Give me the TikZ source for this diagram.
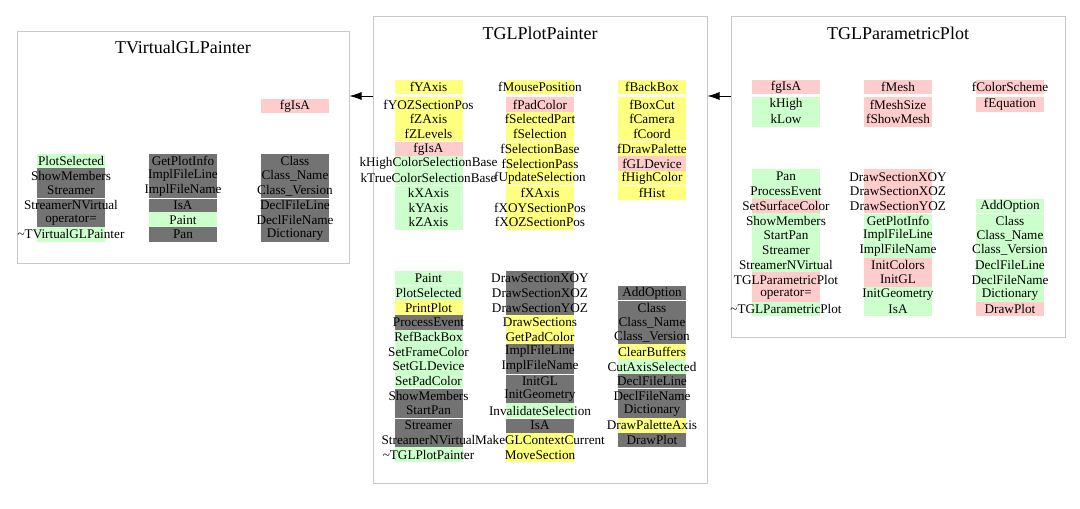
\documentclass[tikz,border=0pt]{standalone}
\usepackage{fontspec}
\setmainfont{Liberation Serif}
\usetikzlibrary{arrows.meta}

\definecolor{cyell}{HTML}{FFFF80}
\definecolor{cpink}{HTML}{FFCCCC}
\definecolor{cgreen}{HTML}{CCFFCC}
\definecolor{cgrey}{HTML}{737373}
\definecolor{cline}{HTML}{C8C8C8}

\begin{document}
\begin{tikzpicture}[x=1pt, y=-1pt,
    font=\fontsize{13.2}{15}\selectfont,
    classbox/.style={draw=cline, line width=1pt, inner sep=0pt},
    title/.style={font=\fontsize{18}{20}\selectfont},
    cell/.style={minimum width=68pt, minimum height=14.7pt, inner sep=0pt},
    gap/.style={draw=white, line width=0.8pt},
    inherit/.style={-{Latex[length=12pt,width=8pt]}, line width=0.8pt}]
        \useasboundingbox (0,0) rectangle (1080,509);

        % class frames
        \node[classbox, minimum width=332pt, minimum height=232pt] (vg) at (183,147) {};
        \node[classbox, minimum width=334pt, minimum height=467pt] (pp) at (540,249.5) {};
        \node[classbox, minimum width=334pt, minimum height=321pt] (pl) at (898,176.5) {};
        \node[title] (vg-title) at (183,47) {TVirtualGLPainter};
        \node[title] (pp-title) at (540,33) {TGLPlotPainter};
        \node[title] (pl-title) at (898,33) {TGLParametricPlot};

        % inheritance
        \coordinate (ah) at (0,96);
        \draw[inherit] (pp.west |- ah) -- (vg.east |- ah);
        \draw[inherit] (pl.west |- ah) -- (pp.east |- ah);

        % TVirtualGLPainter
        \node[cell, fill=cpink] (vg-d3-0) at (295,106) {fgIsA};
        \foreach \c/\t [count=\i from 0] in {cgreen/PlotSelected, cgrey/ShowMembers, cgrey/Streamer,
            cgrey/StreamerNVirtual, cgrey/operator=, cgreen/\textasciitilde TVirtualGLPainter}
            \node[cell, fill=\c, label={center:\t}] (vg-m1-\i) at (71,161+14.7*\i) {};
        \foreach \c/\t [count=\i from 0] in {cgrey/GetPlotInfo, cgrey/ImplFileLine, cgrey/ImplFileName,
            cgrey/IsA, cgreen/Paint, cgrey/Pan}
            \node[cell, fill=\c, label={center:\t}] (vg-m2-\i) at (183,161+14.7*\i) {};
        \foreach \c/\t [count=\i from 0] in {cgrey/Class, cgrey/Class\_Name, cgrey/Class\_Version,
            cgrey/DeclFileLine, cgrey/DeclFileName, cgrey/Dictionary}
            \node[cell, fill=\c, label={center:\t}] (vg-m3-\i) at (295,161+14.7*\i) {};
        \foreach \k in {1,2,3}
            \draw[gap] (vg-m\k-2.south west) -- (vg-m\k-2.south east);

        % TGLPlotPainter
        \node[cell, fill=cyell] (pp-d1-0) at (428.5,87) {fYAxis};
        \node[cell, fill=cyell, label={center:fMousePosition}] (pp-d2-0) at (540,87) {};
        \node[cell, fill=cyell] (pp-d3-0) at (652,87) {fBackBox};
        \foreach \c/\t [count=\i from 1] in {cyell/fYOZSectionPos, cyell/fZAxis, cyell/fZLevels,
            cpink/fgIsA, cgreen/kHighColorSelectionBase, cgreen/kTrueColorSelectionBase,
            cgreen/kXAxis, cgreen/kYAxis, cgreen/kZAxis}
            \node[cell, fill=\c, label={center:\t}] (pp-d1-\i) at (428.5,89.99+14.7*\i) {};
        \foreach \c/\t [count=\i from 1] in {cpink/fPadColor, cyell/fSelectedPart, cyell/fSelection,
            cyell/fSelectionBase, cyell/fSelectionPass, cyell/fUpdateSelection,
            cyell/fXAxis, cyell/fXOYSectionPos, cyell/fXOZSectionPos}
            \node[cell, fill=\c, label={center:\t}] (pp-d2-\i) at (540,89.99+14.7*\i) {};
        \foreach \c/\t [count=\i from 1] in {cyell/fBoxCut, cyell/fCamera, cyell/fCoord,
            cyell/fDrawPalette, cpink/fGLDevice, cyell/fHighColor, cyell/fHist}
            \node[cell, fill=\c, label={center:\t}] (pp-d3-\i) at (652,89.99+14.7*\i) {};
        \foreach \k in {1,2,3}
            \foreach \r in {3,6}
                \draw[gap] (pp-d\k-\r.south west) -- (pp-d\k-\r.south east);

        \foreach \c/\t [count=\i from 0] in {cgreen/Paint, cgreen/PlotSelected, cyell/PrintPlot,
            cgrey/ProcessEvent, cgreen/RefBackBox, cgreen/SetFrameColor, cgreen/SetGLDevice,
            cgreen/SetPadColor, cgrey/ShowMembers, cgrey/StartPan, cgrey/Streamer,
            cgrey/StreamerNVirtual, cgreen/\textasciitilde TGLPlotPainter}
            \node[cell, fill=\c, label={center:\t}] (pp-m1-\i) at (428.5,278.3+14.7*\i) {};
        \foreach \c/\t [count=\i from 0] in {cgrey/DrawSectionXOY, cgrey/DrawSectionXOZ,
            cgrey/DrawSectionYOZ, cyell/DrawSections, cyell/GetPadColor, cgrey/ImplFileLine,
            cgrey/ImplFileName, cgrey/InitGL, cgrey/InitGeometry, cgreen/InvalidateSelection,
            cgrey/IsA, cyell/MakeGLContextCurrent, cyell/MoveSection}
            \node[cell, fill=\c, label={center:\t}] (pp-m2-\i) at (540,278.3+14.7*\i) {};
        \foreach \c/\t [count=\i from 1] in {cgrey/AddOption, cgrey/Class, cgrey/Class\_Name,
            cgrey/Class\_Version, cyell/ClearBuffers, cgreen/CutAxisSelected, cgrey/DeclFileLine,
            cgrey/DeclFileName, cgrey/Dictionary, cyell/DrawPaletteAxis, cgrey/DrawPlot}
            \node[cell, fill=\c, label={center:\t}] (pp-m3-\i) at (652,278.3+14.7*\i) {};
        \draw[gap] (pp-m1-0.south west) -- (pp-m1-0.south east);
        \draw[gap] (pp-m1-7.south west) -- (pp-m1-7.south east);
        \draw[gap] (pp-m1-9.south west) -- (pp-m1-9.south east);
        \draw[gap] (pp-m2-6.south west) -- (pp-m2-6.south east);
        \draw[gap] (pp-m2-9.south west) -- (pp-m2-9.south east);
        \draw[gap] (pp-m3-1.south west) -- (pp-m3-1.south east);
        \draw[gap] (pp-m3-7.south west) -- (pp-m3-7.south east);

        % TGLParametricPlot
        \node[cell, fill=cpink] (pl-d1-0) at (786,87) {fgIsA};
        \node[cell, fill=cpink] (pl-d2-0) at (898,87) {fMesh};
        \node[cell, fill=cpink, label={center:fColorScheme}] (pl-d3-0) at (1010,87) {};
        \node[cell, fill=cgreen] (pl-d1-1) at (786,104.7) {kHigh};
        \node[cell, fill=cgreen] (pl-d1-2) at (786,119.4) {kLow};
        \node[cell, fill=cpink] (pl-d2-1) at (898,104.7) {fMeshSize};
        \node[cell, fill=cpink] (pl-d2-2) at (898,119.4) {fShowMesh};
        \node[cell, fill=cpink] (pl-d3-1) at (1010,104.7) {fEquation};

        \foreach \c/\t [count=\i from 0] in {cgreen/Pan, cgreen/ProcessEvent, cpink/SetSurfaceColor,
            cgreen/ShowMembers, cgreen/StartPan, cgreen/Streamer, cgreen/StreamerNVirtual,
            cpink/TGLParametricPlot, cpink/operator=, cgreen/\textasciitilde TGLParametricPlot}
            \node[cell, fill=\c, label={center:\t}] (pl-m1-\i) at (786,176.7+14.7*\i) {};
        \foreach \c/\t [count=\i from 0] in {cpink/DrawSectionXOY, cpink/DrawSectionXOZ,
            cpink/DrawSectionYOZ, cgreen/GetPlotInfo, cgreen/ImplFileLine, cgreen/ImplFileName,
            cpink/InitColors, cpink/InitGL, cgreen/InitGeometry, cgreen/IsA}
            \node[cell, fill=\c, label={center:\t}] (pl-m2-\i) at (898,176.7+14.7*\i) {};
        \foreach \c/\t [count=\i from 2] in {cgreen/AddOption, cgreen/Class, cgreen/Class\_Name,
            cgreen/Class\_Version, cgreen/DeclFileLine, cgreen/DeclFileName, cgreen/Dictionary,
            cpink/DrawPlot}
            \node[cell, fill=\c, label={center:\t}] (pl-m3-\i) at (1010,176.7+14.7*\i) {};
        \draw[gap] (pl-m2-2.south west) -- (pl-m2-2.south east);
        \draw[gap] (pl-m3-2.south west) -- (pl-m3-2.south east);
    \end{tikzpicture}
\end{document}
